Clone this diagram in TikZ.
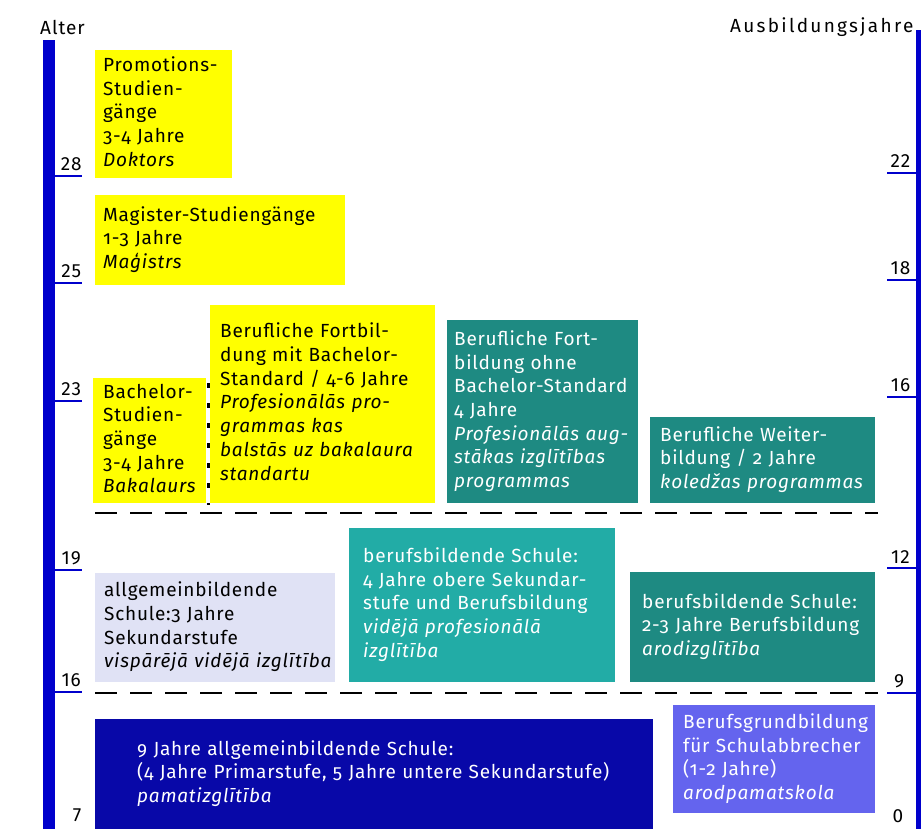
\documentclass[tikz,border=0pt]{standalone}
\usepackage{fontspec}
\setmainfont{Fira Sans}[Numbers=OldStyle, LetterSpace=4]
\newfontfamily\axisfont{Fira Sans}[LetterSpace=5]
\usepackage{tikz}

\definecolor{achsblau}{HTML}{0000CC}
\definecolor{gelb}{HTML}{FFFF00}
\definecolor{tuerkis}{HTML}{1E8A82}
\definecolor{helltuerkis}{HTML}{22ACA6}
\definecolor{lavendel}{HTML}{E0E2F5}
\definecolor{dunkelblau}{HTML}{0808A8}
\definecolor{violett}{HTML}{6464EE}

% zeilen ohne umbruch
\newcommand{\zeilen}[1]{\begin{tabular}{@{}l@{}}#1\end{tabular}}

\tikzset{
  box/.style={anchor=north west, align=left, inner ysep=0pt,
    font=\fontsize{19}{23.7}\selectfont},
  tick/.style={achsblau, line width=2pt},
  zahl/.style={text=black, font=\axisfont\fontsize{19}{22}\selectfont, inner sep=0pt},
  trenn/.style={line width=2.5pt, dash pattern=on 22pt off 13pt}
}

\begin{document}
\begin{tikzpicture}[x=1pt,y=-1pt]
\useasboundingbox (0,0) rectangle (921,829);
% achsen
\fill[achsblau] (43,40) rectangle (55,829);
\fill[achsblau] (916,30) rectangle (926,829);
\node[zahl, anchor=west] (alter) at (40,27) {Alter};
\node[zahl, anchor=west] (jahre) at (730,27) {\addfontfeature{LetterSpace=12}Ausbildungsjahre};
\draw[tick] (55,176) -- (82,176) node[zahl, above=4pt, pos=0.6] (a28) {28};
\draw[tick] (55,283) -- (82,283) node[zahl, above=4pt, pos=0.6] (a25) {25};
\draw[tick] (55,401) -- (82,401) node[zahl, above=4pt, pos=0.6] (a23) {23};
\draw[tick] (55,570) -- (82,570) node[zahl, above=4pt, pos=0.6] (a19) {19};
\draw[tick] (55,692) -- (82,692) node[zahl, above=4pt, pos=0.6] (a16) {16};
\node[zahl] (a7) at (77,815) {7};
\draw[tick] (887,173) -- (917,173) node[zahl, above=4pt, pos=0.45] (j22) {22};
\draw[tick] (887,280) -- (917,280) node[zahl, above=4pt, pos=0.45] (j18) {18};
\draw[tick] (887,397) -- (917,397) node[zahl, above=4pt, pos=0.45] (j16) {16};
\draw[tick] (887,568) -- (917,568) node[zahl, above=4pt, pos=0.45] (j12) {12};
\draw[tick] (887,693) -- (917,693) node[zahl, above=4pt, pos=0.4] (j9) {9};
\node[zahl] (j0) at (898,816) {0};
% hochschule
\node[box, fill=gelb, minimum width=137, minimum height=128, text width=121, inner xsep=8] (promo) at (95,50)
  {\zeilen{Promotions-\\Studien-\\gänge\\3-4 Jahre\\\textit{Doktors}}};
\node[box, fill=gelb, minimum width=250, minimum height=90, text width=234, inner xsep=8] (magister) at (95,195)
  {\zeilen{Magister-Studiengänge\\1-3 Jahre\\\textit{Maģistrs}}};
\node[box, fill=gelb, minimum width=113, minimum height=125, text width=93, inner xsep=10] (bachelor) at (93,378)
  {\zeilen{Bachelor-\\Studien-\\gänge\\3-4 Jahre\\\textit{Bakalaurs}}};
\node[box, fill=gelb, minimum width=225, minimum height=198, text width=205, inner xsep=10] (bfmit) at (210,305)
  {\zeilen{Berufliche Fortbil-\\dung mit Bachelor-\\Standard / 4-6 Jahre\\\textit{Profesionālās pro-}\\\textit{grammas kas}\\\textit{balstās uz bakalaura}\\\textit{standartu}}};
\draw[line width=3pt, dash pattern=on 5pt off 15pt] (208,383) -- (208,505);
\node[box, fill=tuerkis, text=white, minimum width=191, minimum height=183, text width=177, inner xsep=7] (bfohne) at (447,320)
  {\zeilen{Berufliche Fort-\\bildung ohne\\Bachelor-Standard\\4 Jahre\\\textit{Profesionālās aug-}\\\textit{stākas izglītības}\\\textit{programmas}}};
\node[box, fill=tuerkis, text=white, minimum width=225, minimum height=86, text width=205, inner xsep=10] (weiter) at (650,417)
  {\zeilen{Berufliche Weiter-\\bildung / 2 Jahre\\\textit{koledžas programmas}}};
\draw[trenn] (95,513) -- (878,513);
% sekundarstufe
\node[box, fill=lavendel, minimum width=240, minimum height=109, text width=222, inner xsep=9] (allg) at (95,573)
  {\zeilen{allgemeinbildende\\Schule:3 Jahre\\Sekundarstufe\\\textit{vispārējā vidējā izglītība}}};
\node[box, fill=helltuerkis, text=white, minimum width=266, minimum height=154, text width=238, inner xsep=14] (berufs4) at (349,528)
  {\zeilen{berufsbildende Schule:\\4 Jahre obere Sekundar-\\stufe und Berufsbildung\\\textit{vidējā profesionālā}\\\textit{izglītība}}};
\node[box, fill=tuerkis, text=white, minimum width=245, minimum height=110, text width=221, inner xsep=12] (berufs23) at (630,572)
  {\zeilen{berufsbildende Schule:\\2-3 Jahre Berufsbildung\\\textit{arodizglītība}}};
\draw[trenn] (95,693) -- (878,693);
% grundschule
\node[box, fill=dunkelblau, text=white, minimum width=558, minimum height=110, text width=474, inner xsep=42] (pflicht) at (95,719)
  {\zeilen{9 Jahre allgemeinbildende Schule:\\(4 Jahre Primarstufe, 5 Jahre untere Sekundarstufe)\\\textit{pamatizglītība}}};
\node[box, fill=violett, text=white, minimum width=202, minimum height=108, text width=182, inner xsep=10] (grund) at (673,705)
  {\zeilen{Berufsgrundbildung\\für Schulabbrecher\\(1-2 Jahre)\\\textit{arodpamatskola}}};
\end{tikzpicture}
\end{document}
